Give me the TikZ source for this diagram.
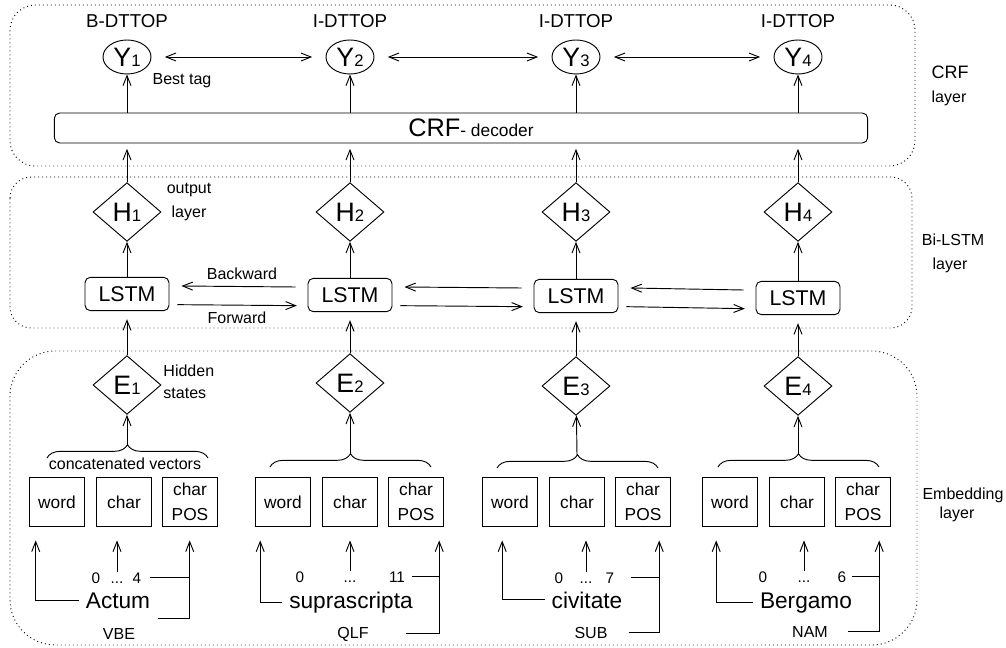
\documentclass[tikz,border=0pt]{standalone}
\usepackage{fontspec}
\setmainfont{Liberation Sans}
\usetikzlibrary{shapes.geometric,arrows.meta,decorations.pathreplacing,positioning}
\newcommand{\fsz}[1]{\fontsize{#1}{#1}\selectfont}
\newcommand{\nodesym}[2]{{\fsz{20}#1}{\fsz{12.5}#2}}

\begin{document}
\begin{tikzpicture}[x=0.75pt,y=-0.75pt,line width=0.7pt,
  >={Straight Barb[length=7.5pt,width=6pt]},
  layerbox/.style={line width=0.7pt,dash pattern=on 0.7pt off 2.3pt},
  tagnode/.style={ellipse,draw,minimum width=36pt,minimum height=25.5pt,inner sep=0pt},
  gate/.style={diamond,draw,minimum width=51pt,minimum height=44pt,inner sep=0pt},
  cell/.style={draw,rounded corners=4pt,minimum width=63pt,minimum height=25pt,inner sep=0pt,font=\fsz{16}},
  vec/.style={draw,minimum width=41pt,minimum height=37pt,inner sep=0pt,align=center,font=\fontsize{13}{19}\selectfont},
  lbl/.style={inner sep=0pt,anchor=base,font=\fsz{12}},
  num/.style={inner sep=0pt,anchor=base,text height=8.2pt,text depth=0pt,font=\fsz{11.5}},
  token/.style={inner sep=0pt,anchor=base,font=\fsz{17}}
]
\useasboundingbox (0,0) rectangle (1006,648);

% the three layers
\draw[layerbox,rounded corners=19pt] (10,5) rectangle (915,166);
\draw[layerbox,rounded corners=16pt] (10,177) rectangle (912,328);
\draw[layerbox,rounded corners=34pt] (10,351) rectangle (917,645);
\node[lbl,font=\fsz{13.5}] (crfname) at (950,79) {CRF};
\node[lbl] (crflayer) at (949,103) {layer};
\node[lbl] (bilstmname) at (953,246) {Bi-LSTM};
\node[lbl] (bilstmlayer) at (950,270) {layer};
\node[lbl] (embname) at (963,499) {Embedding};
\node[lbl] (emblayer) at (957,518) {layer};

% CRF layer
\node[draw,rounded corners=4pt,minimum width=610pt,minimum height=22.5pt,inner sep=0pt] (crf) at (461,128)
  {\hspace*{15pt}{\fsz{19}CRF}{\fsz{13}- decoder}};
\foreach \i/\x/\t in {1/127/B-DTTOP,2/350/I-DTTOP,3/576/I-DTTOP,4/798/I-DTTOP}{
  \node[tagnode] (Y\i) at (\x,57) {\nodesym{Y}{\i}};
  \node[lbl,font=\fsz{14}] (tag\i) at (\x,28) {\t};
  \draw[->] (crf.north -| Y\i) -- (Y\i);
}
\foreach \a/\b in {1/2,2/3,3/4}
  \draw[<->,shorten <=10pt,shorten >=10pt] (Y\a) -- (Y\b);
\node[lbl] (besttag) at (182,85) {Best tag};

% Bi-LSTM layer and hidden states
\foreach \i/\x/\ly/\ey in {1/127/294/385,2/350/295/383,3/576/296/386,4/798/298/386}{
  \node[gate] (H\i) at (\x,212) {\nodesym{H}{\i}};
  \node[cell] (L\i) at (\x,\ly) {LSTM};
  \node[gate] (E\i) at (\x,\ey) {\nodesym{E}{\i}};
  \draw[->] (L\i) -- (H\i);
  \draw[->,shorten >=4pt] (H\i) -- (H\i |- crf.south);
  \draw[->,shorten >=6pt] (E\i) -- (E\i |- L\i.south);
}
\foreach \a/\b in {1/2,2/3,3/4}{
  \draw[->] ([xshift=-9pt,yshift=6pt]L\b.west) -- ([xshift=9pt,yshift=6pt]L\a.east);
  \draw[->] ([xshift=6pt,yshift=-8pt]L\a.east) -- ([xshift=-8pt,yshift=-8pt]L\b.west);
}
\node[lbl] (bw) at (242,280) {Backward};
\node[lbl] (fw) at (237,324) {Forward};
\node[lbl] (outl) at (189,194) {output};
\node[lbl] (outl2) at (189,218) {layer};
\node[lbl,anchor=base west] (hid) at (163,377) {Hidden};
\node[lbl,anchor=base west] (hid2) at (163,398) {states};

% embedding vectors
\foreach \i/\x/\g/\by in {1/127/124/458,2/350/350/467,3/577/577/468,4/798/797/467}{
  \node[vec] (w\i) at (\g-67,502) {word};
  \node[vec] (c\i) at (\g,502) {char};
  \node[vec] (p\i) at (\g+66,502) {char\\POS};
  \draw[decorate,decoration={brace,amplitude=10pt}] (\x-80,\by) -- (\x+81,\by);
  \coordinate (b\i) at (\x,\by-13);
  \draw[->] (b\i) -- (E\i);
}
\node[lbl] (concat) at (125,469) {concatenated vectors};

% tokens: Actum
\node[token] (tok1) at (118,608) {Actum};
\node[num] (lo1) at (96,583) {0};
\node[num] (dots1) at (117,583) {...};
\node[num] (hi1) at (137,583) {4};
\node[lbl] (pos1) at (119,639) {VBE};
\path (w1.south west) ++(6.5,0) coordinate (kw1);
\path (p1.south west) ++(27.5,0) coordinate (kp1);
\draw[->,shorten >=10pt] ([xshift=-5pt]tok1.west) -| (kw1);
\draw[->,shorten >=10pt] (dots1.north) -- (dots1.north |- c1.south);
\draw ([xshift=6pt]hi1.east) -- (hi1.east -| kp1);
\draw[->,shorten >=10pt] ([xshift=17pt,yshift=11pt]pos1.east) -| (kp1);

% suprascripta
\node[token] (tok2) at (351,608) {suprascripta};
\node[num] (lo2) at (300,582) {0};
\node[num] (dots2) at (350,582) {...};
\node[num] (hi2) at (397,582) {11};
\node[lbl] (pos2) at (353,638) {QLF};
\path (w2.south west) ++(5,0) coordinate (kw2);
\path (p2.south west) ++(51,0) coordinate (kp2);
\draw[->,shorten >=10pt] ([xshift=-5pt]tok2.west) -| (kw2);
\draw[->,shorten >=10pt] (dots2.north) -- (dots2.north |- c2.south);
\draw ([xshift=5pt]hi2.east) -- (hi2.east -| kp2);
\draw[->,shorten >=10pt] ([xshift=28pt]pos2.east) -| (kp2);

% civitate
\node[token] (tok3) at (587,608) {civitate};
\node[num] (lo3) at (559,583) {0};
\node[num] (dots3) at (586,583) {...};
\node[num] (hi3) at (610,583) {7};
\node[lbl] (pos3) at (591,638) {SUB};
\path (w3.south west) ++(20,0) coordinate (kw3);
\path (p3.south west) ++(44,0) coordinate (kp3);
\draw[->,shorten >=10pt] ([xshift=-5pt]tok3.west) -| (kw3);
\draw[->,shorten >=10pt] (dots3.north) -- (dots3.north |- c3.south);
\draw ([xshift=12pt]hi3.east) -- (hi3.east -| kp3);
\draw[->,shorten >=10pt] ([xshift=16pt]pos3.east) -| (kp3);

% Bergamo
\node[token] (tok4) at (806,608) {Bergamo};
\node[num] (lo4) at (763,582) {0};
\node[num] (dots4) at (804,582) {...};
\node[num] (hi4) at (842,582) {6};
\node[lbl] (pos4) at (810,637) {NAM};
\path (w4.south west) ++(14,0) coordinate (kw4);
\path (p4.south west) ++(44,0) coordinate (kp4);
\draw[->,shorten >=10pt] ([xshift=-5pt]tok4.west) -| (kw4);
\draw[->,shorten >=10pt] (dots4.north) -- (dots4.north |- c4.south);
\draw ([xshift=4pt]hi4.east) -- (hi4.east -| kp4);
\draw[->,shorten >=10pt] ([xshift=15pt]pos4.east) -| (kp4);
\end{tikzpicture}
\end{document}
